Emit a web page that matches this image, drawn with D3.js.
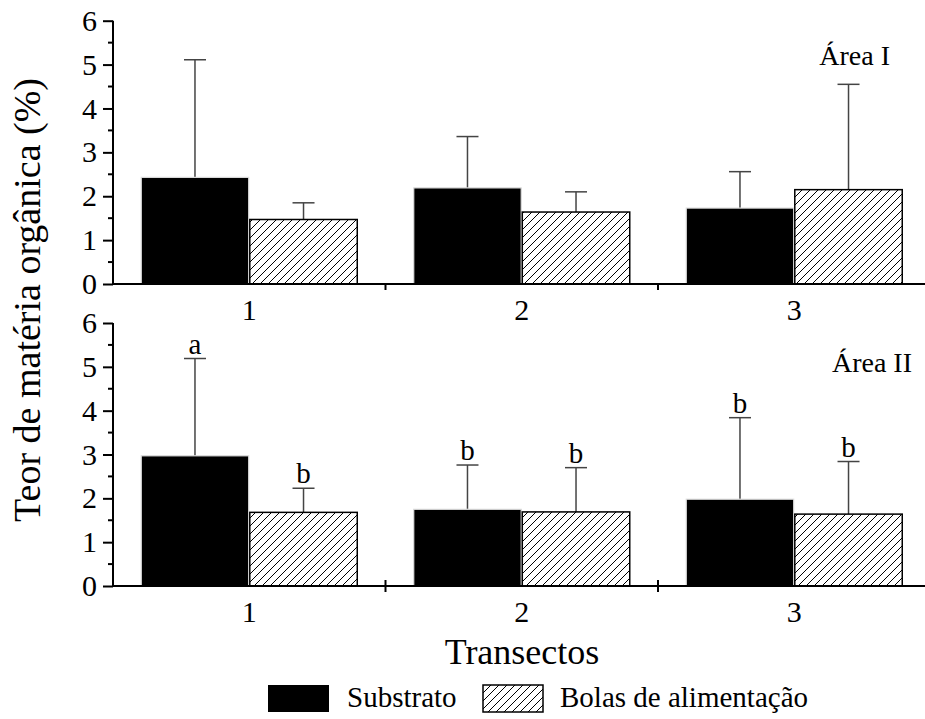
<!DOCTYPE html>
<html><head><meta charset="utf-8">
<script src="https://cdn.jsdelivr.net/npm/d3@7"></script>
<style>
html,body{margin:0;padding:0;background:#fff;}
</style></head>
<body>
<svg id="chart" width="925" height="719"></svg>
<script>
// ---- data ----
const transects = ["1", "2", "3"];
const seriesNames = ["Substrato", "Bolas de alimentação"];
const areaLabels = ["Área I", "Área II"];
// Área I
const areaI_substrato = [2.43, 2.19, 1.73];
const areaI_substrato_err = [5.11, 3.36, 2.56];   // top of error bar
const areaI_bolas = [1.47, 1.64, 2.15];
const areaI_bolas_err = [1.85, 2.10, 4.55];
// Área II
const areaII_substrato = [2.97, 1.75, 1.98];
const areaII_substrato_err = [5.19, 2.76, 3.84];
const areaII_bolas = [1.68, 1.69, 1.64];
const areaII_bolas_err = [2.23, 2.70, 2.84];
const areaII_substrato_letters = ["a", "b", "b"];
const areaII_bolas_letters = ["b", "b", "b"];
const yTicks = [0, 1, 2, 3, 4, 5, 6];

const FONT = "'Liberation Serif', 'Times New Roman', Times, serif";

const svg = d3.select("#chart").attr("font-family", FONT);
const defs = svg.append("defs");
const pat = defs.append("pattern").attr("id", "hatch")
  .attr("patternUnits", "userSpaceOnUse").attr("width", 8).attr("height", 8);
pat.append("rect").attr("width", 8).attr("height", 8).attr("fill", "#fff");
pat.append("path").attr("d", "M-2,2 L2,-2 M0,8 L8,0 M6,10 L10,6")
  .attr("stroke", "#000").attr("stroke-width", 1);

const x = d3.scaleBand().domain(transects).range([113, 930.5]);
const xs = d3.scaleBand().domain(seriesNames).range([-108, 108]).paddingInner(0.01);

const panels = [
  { top: 20.7, bottom: 284, label: areaLabels[0], lx: 890, ly: 65, tickBoth: false,
    s: areaI_substrato, se: areaI_substrato_err, b: areaI_bolas, be: areaI_bolas_err, sl: null, bl: null, xl: 320 },
  { top: 323, bottom: 586, label: areaLabels[1], lx: 912, ly: 372, tickBoth: true,
    s: areaII_substrato, se: areaII_substrato_err, b: areaII_bolas, be: areaII_bolas_err,
    sl: areaII_substrato_letters, bl: areaII_bolas_letters, xl: 622 }
];

function txt(sel, size) {
  return sel.attr("font-family", FONT).attr("font-size", size).attr("fill", "#000");
}

panels.forEach(p => {
  const y = d3.scaleLinear().domain([0, 6]).range([p.bottom, p.top]);
  const g = svg.append("g");

  const rows = [];
  transects.forEach((t, i) => {
    rows.push({ t, ser: seriesNames[0], v: p.s[i], e: p.se[i], l: p.sl ? p.sl[i] : null });
    rows.push({ t, ser: seriesNames[1], v: p.b[i], e: p.be[i], l: p.bl ? p.bl[i] : null });
  });

  // error bars (behind bars)
  const eb = g.append("g");
  rows.forEach(r => {
    const cx = x(r.t) + x.bandwidth() / 2 + xs(r.ser) + xs.bandwidth() / 2;
    eb.append("line").attr("x1", cx).attr("x2", cx).attr("y1", y(r.v)).attr("y2", y(r.e))
      .attr("stroke", "#444").attr("stroke-width", 1.5);
    eb.append("line").attr("x1", cx - 11).attr("x2", cx + 11).attr("y1", y(r.e)).attr("y2", y(r.e))
      .attr("stroke", "#444").attr("stroke-width", 1.5);
    if (r.l) {
      txt(g.append("text"), 29).attr("x", cx).attr("y", y(r.e) - 5).attr("text-anchor", "middle").text(r.l);
    }
  });

  // bars
  g.selectAll("rect.bar").data(rows).join("rect").attr("class", "bar")
    .attr("x", d => x(d.t) + x.bandwidth() / 2 + xs(d.ser))
    .attr("width", xs.bandwidth())
    .attr("y", d => y(d.v))
    .attr("height", d => y(0) - y(d.v))
    .attr("fill", d => d.ser === seriesNames[0] ? "#000" : "url(#hatch)")
    .attr("stroke", d => d.ser === seriesNames[0] ? "#ddd" : "#000")
    .attr("stroke-width", d => d.ser === seriesNames[0] ? 1.2 : 1.5);

  // y axis
  const yAxis = d3.axisLeft(y).tickValues(yTicks).tickSize(10).tickPadding(6).tickFormat(d3.format("d"));
  const ya = g.append("g").attr("transform", "translate(113,0)").call(yAxis);
  ya.attr("font-family", FONT).attr("font-size", 30);
  ya.select(".domain").attr("stroke-width", 2).attr("d", `M0,${p.top}V${p.bottom}`);
  ya.selectAll(".tick line").attr("stroke-width", 2);
  txt(ya.selectAll(".tick text"), 30);
  // minor ticks
  const minor = d3.range(0.5, 6, 1);
  g.selectAll("line.minor").data(minor).join("line").attr("class", "minor")
    .attr("x1", 108).attr("x2", 113).attr("y1", d => y(d)).attr("y2", d => y(d))
    .attr("stroke", "#000").attr("stroke-width", 2);

  // x axis line
  g.append("line").attr("x1", 113).attr("x2", 925).attr("y1", p.bottom).attr("y2", p.bottom)
    .attr("stroke", "#000").attr("stroke-width", 2);
  const bounds = transects.slice(1).map(t => x(t));
  g.selectAll("line.xt").data(bounds).join("line").attr("class", "xt")
    .attr("x1", d => d).attr("x2", d => d)
    .attr("y1", p.tickBoth ? p.bottom - 6 : p.bottom).attr("y2", p.bottom + 6)
    .attr("stroke", "#000").attr("stroke-width", 2);
  txt(g.selectAll("text.xl").data(transects).join("text").attr("class", "xl"), 30)
    .attr("x", d => x(d) + x.bandwidth() / 2).attr("y", p.xl)
    .attr("text-anchor", "middle").text(d => d);

  txt(g.append("text"), 28).attr("x", p.lx).attr("y", p.ly).attr("text-anchor", "end").text(p.label);
});

// axis titles
txt(svg.append("text"), 38).attr("transform", "translate(40,300) rotate(-90)")
  .attr("text-anchor", "middle").text("Teor de matéria orgânica (%)");
txt(svg.append("text"), 36).attr("x", 522).attr("y", 664).attr("text-anchor", "middle").text("Transectos");

// legend
const leg = svg.append("g");
leg.append("rect").attr("x", 268).attr("y", 685).attr("width", 61).attr("height", 27).attr("fill", "#000");
txt(leg.append("text"), 29).attr("x", 347).attr("y", 707).text(seriesNames[0]);
leg.append("rect").attr("x", 483).attr("y", 685).attr("width", 60).attr("height", 27)
  .attr("fill", "url(#hatch)").attr("stroke", "#000").attr("stroke-width", 1.5);
txt(leg.append("text"), 29).attr("x", 560).attr("y", 707).text(seriesNames[1]);
</script>
</body></html>
